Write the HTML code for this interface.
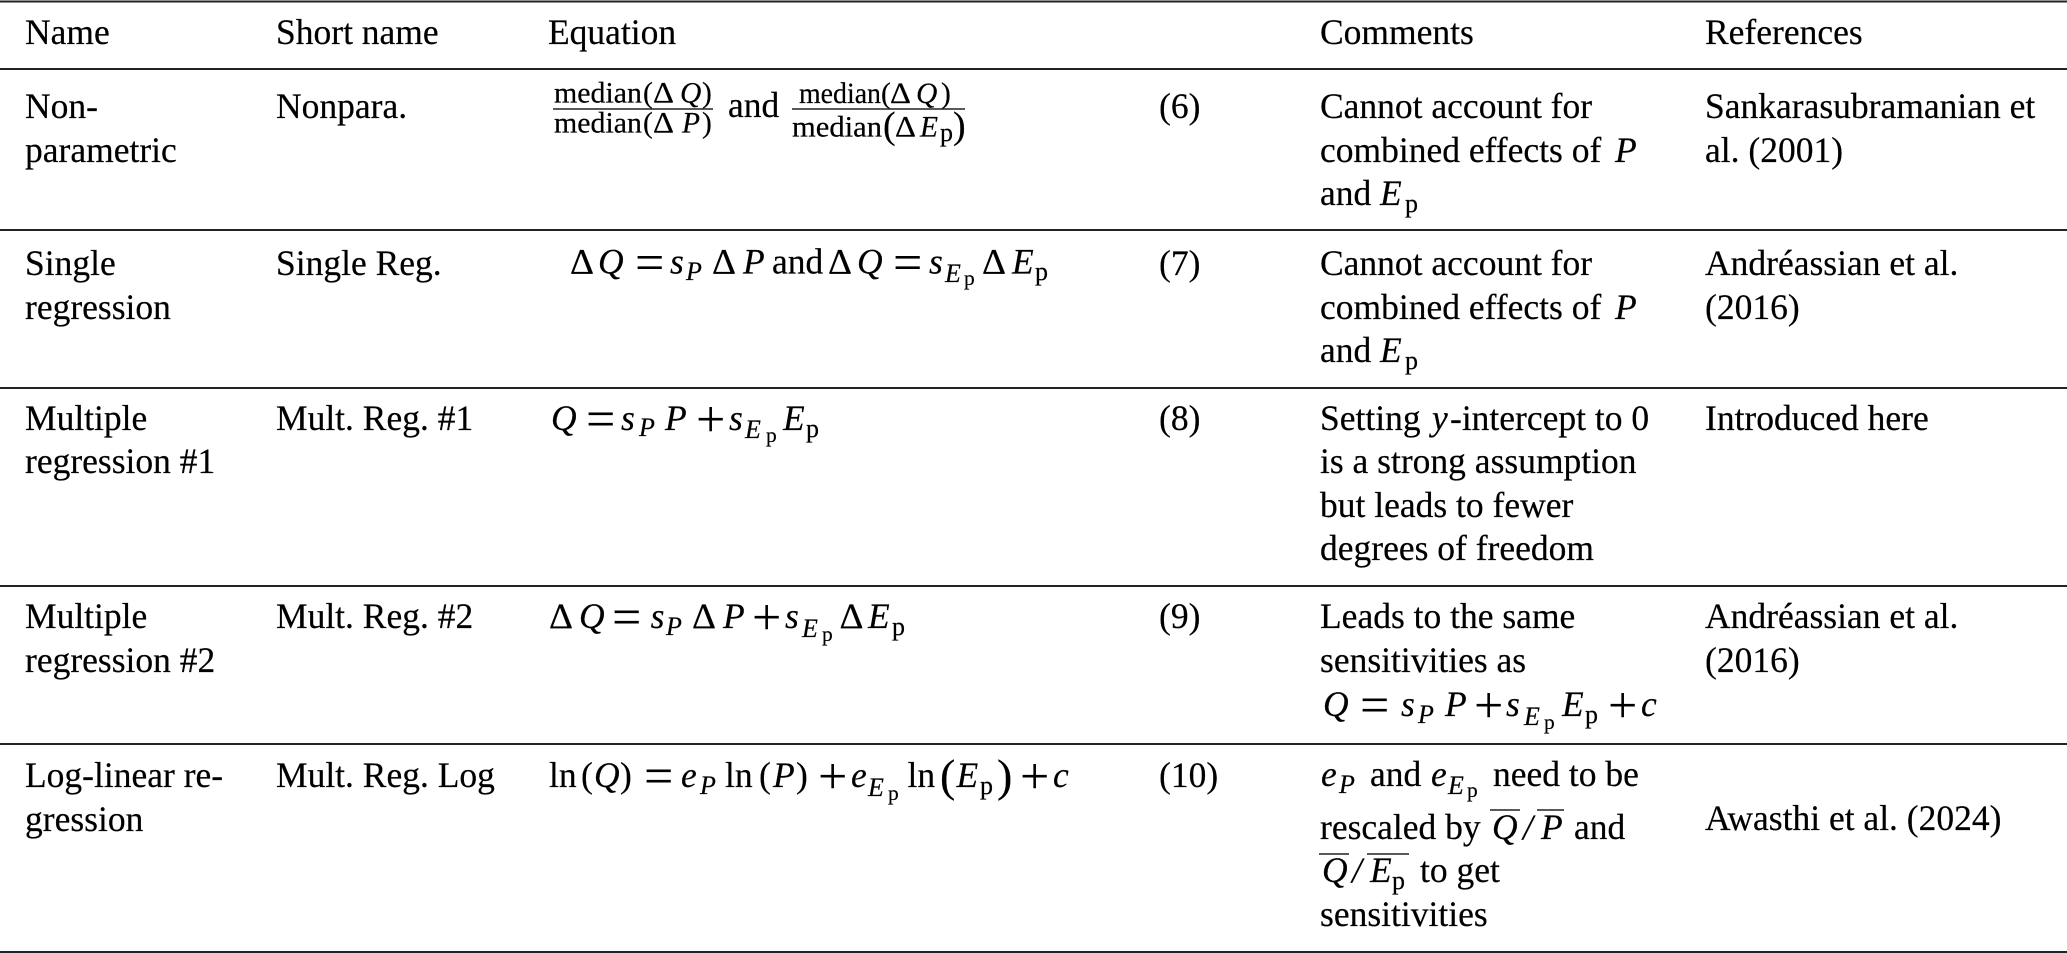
<!DOCTYPE html>
<html><head><meta charset="utf-8"><style>
html,body{margin:0;padding:0;background:#fff}
svg{display:block}
text{font-family:"Liberation Serif",serif;font-size:35.5px;fill:#000;stroke:#000;stroke-width:.2px;white-space:pre}
.i{font-style:italic}
.s{font-style:italic;font-size:26px}
.sr{font-size:26px}
.ss{font-size:21.5px}
.f{font-size:29.5px}
.fi{font-size:29.5px;font-style:italic}
.b{font-size:46px}
.o{font-size:52px;stroke-width:0;transform:translateY(2px)}
line{stroke:#222}
</style></head><body>
<svg width="2067" height="953" viewBox="0 0 2067 953" xmlns="http://www.w3.org/2000/svg">
<g stroke-width="2">
<line x1="0" x2="2067" y1="1.5" y2="1.5"/>
<line x1="0" x2="2067" y1="69" y2="69"/>
<line x1="0" x2="2067" y1="230" y2="230"/>
<line x1="0" x2="2067" y1="388" y2="388"/>
<line x1="0" x2="2067" y1="586" y2="586"/>
<line x1="0" x2="2067" y1="744" y2="744"/>
<line x1="0" x2="2067" y1="952" y2="952"/>
</g>
<!-- header -->
<text x="25" y="44">Name</text><text x="276" y="44">Short name</text><text x="548" y="44">Equation</text><text x="1320" y="44">Comments</text><text x="1705" y="44">References</text>
<!-- row 1 -->
<text x="25" y="118">Non-</text><text x="25" y="162">parametric</text><text x="276" y="118">Nonpara.</text>
<text class="f" x="554" y="102.7" textLength="88" lengthAdjust="spacingAndGlyphs">median</text><text class="f" x="643" y="102.7">(</text><text class="f" x="653" y="102.7" textLength="21" lengthAdjust="spacingAndGlyphs">Δ</text><text class="fi" x="680" y="102.7">Q</text><text class="f" x="702" y="102.7">)</text>
<line x1="553" x2="713" y1="109" y2="109" stroke-width="1.6"/>
<text class="f" x="554" y="132.7" textLength="88" lengthAdjust="spacingAndGlyphs">median</text><text class="f" x="643" y="132.7">(</text><text class="f" x="653" y="132.7" textLength="21" lengthAdjust="spacingAndGlyphs">Δ</text><text class="fi" x="682" y="132.7">P</text><text class="f" x="702" y="132.7">)</text>
<text x="728" y="117">and</text>
<text class="f" x="799" y="103" textLength="82" lengthAdjust="spacingAndGlyphs">median</text><text class="f" x="881" y="103">(</text><text class="f" x="890" y="103" textLength="21" lengthAdjust="spacingAndGlyphs">Δ</text><text class="fi" x="916" y="103">Q</text><text class="f" x="941" y="103">)</text>
<line x1="792" x2="965" y1="109" y2="109" stroke-width="1.6"/>
<text class="f" x="792" y="136.7" textLength="90" lengthAdjust="spacingAndGlyphs">median</text><text class="f" x="883" y="138" style="font-size:38px">(</text><text class="f" x="895" y="136.7" textLength="21" lengthAdjust="spacingAndGlyphs">Δ</text><text class="fi" x="920" y="136.7">E</text><text class="sr" x="940" y="141">p</text><text class="f" x="953" y="138" style="font-size:38px">)</text>
<text x="1159" y="118">(6)</text>
<text x="1320" y="118">Cannot account for</text><text x="1320" y="162">combined effects of</text><text class="i" x="1615" y="162">P</text><text x="1320" y="205">and</text><text class="i" x="1380" y="205">E</text><text class="sr" x="1405" y="212">p</text>
<text x="1705" y="118">Sankarasubramanian et</text><text x="1705" y="162">al. (2001)</text>
<!-- row 2 -->
<text x="25" y="275">Single</text><text x="25" y="319">regression</text><text x="276" y="275">Single Reg.</text>
<text x="570" y="273.5" textLength="24" lengthAdjust="spacingAndGlyphs">Δ</text><text class="i" x="598" y="273.5">Q</text><text class="o" x="635" y="278">=</text><text class="i" x="670" y="273.5">s</text><text class="s" x="686" y="280">P</text><text x="712" y="273.5" textLength="24" lengthAdjust="spacingAndGlyphs">Δ</text><text class="i" x="743" y="273.5">P</text><text x="772" y="273.5">and</text><text x="828" y="273.5" textLength="24" lengthAdjust="spacingAndGlyphs">Δ</text><text class="i" x="857" y="273.5">Q</text><text class="o" x="893" y="278">=</text><text class="i" x="929" y="273.5">s</text><text class="s" x="945" y="282">E</text><text class="ss" x="964" y="285">p</text><text x="982" y="273.5" textLength="24" lengthAdjust="spacingAndGlyphs">Δ</text><text class="i" x="1012" y="273.5">E</text><text class="sr" x="1035" y="280">p</text>
<text x="1159" y="275">(7)</text>
<text x="1320" y="275">Cannot account for</text><text x="1320" y="319">combined effects of</text><text class="i" x="1615" y="319">P</text><text x="1320" y="362">and</text><text class="i" x="1380" y="362">E</text><text class="sr" x="1405" y="369">p</text>
<text x="1705" y="275">Andréassian et al.</text><text x="1705" y="319">(2016)</text>
<!-- row 3 -->
<text x="25" y="430">Multiple</text><text x="25" y="473">regression #1</text><text x="276" y="430">Mult. Reg. #1</text>
<text class="i" x="551" y="430">Q</text><text class="o" x="586" y="434.5">=</text><text class="i" x="621" y="430">s</text><text class="s" x="639" y="436">P</text><text class="i" x="665" y="430">P</text><text class="o" x="696" y="434.5">+</text><text class="i" x="729" y="430">s</text><text class="s" x="745" y="438">E</text><text class="ss" x="766" y="442">p</text><text class="i" x="783" y="430">E</text><text class="sr" x="806" y="437">p</text>
<text x="1159" y="430">(8)</text>
<text x="1320" y="430">Setting</text><text class="i" x="1432" y="430">y</text><text x="1450" y="430">-intercept to 0</text><text x="1320" y="473">is a strong assumption</text><text x="1320" y="517">but leads to fewer</text><text x="1320" y="560">degrees of freedom</text>
<text x="1705" y="430">Introduced here</text>
<!-- row 4 -->
<text x="25" y="628">Multiple</text><text x="25" y="672">regression #2</text><text x="276" y="628">Mult. Reg. #2</text>
<text x="549" y="628" textLength="24" lengthAdjust="spacingAndGlyphs">Δ</text><text class="i" x="579" y="628">Q</text><text class="o" x="612" y="632.5">=</text><text class="i" x="650.6" y="628">s</text><text class="s" x="666" y="635">P</text><text x="692" y="628" textLength="24" lengthAdjust="spacingAndGlyphs">Δ</text><text class="i" x="723" y="628">P</text><text class="o" x="752" y="632.5">+</text><text class="i" x="785" y="628">s</text><text class="s" x="802" y="637">E</text><text class="ss" x="822" y="641">p</text><text x="839.5" y="628" textLength="24" lengthAdjust="spacingAndGlyphs">Δ</text><text class="i" x="868" y="628">E</text><text class="sr" x="892" y="635">p</text>
<text x="1159" y="628">(9)</text>
<text x="1320" y="628">Leads to the same</text><text x="1320" y="672">sensitivities as</text>
<text class="i" x="1323" y="716">Q</text><text class="o" x="1360" y="720.5">=</text><text class="i" x="1401" y="716">s</text><text class="s" x="1418" y="723">P</text><text class="i" x="1445" y="716">P</text><text class="o" x="1474" y="720.5">+</text><text class="i" x="1506" y="716">s</text><text class="s" x="1524" y="725">E</text><text class="ss" x="1544" y="729">p</text><text class="i" x="1562" y="716">E</text><text class="sr" x="1585" y="723">p</text><text class="o" x="1608" y="720.5">+</text><text class="i" x="1641" y="716">c</text>
<text x="1705" y="628">Andréassian et al.</text><text x="1705" y="672">(2016)</text>
<!-- row 5 -->
<text x="25" y="787">Log-linear re-</text><text x="25" y="831">gression</text><text x="276" y="787">Mult. Reg. Log</text>
<text x="549" y="787">ln</text><text x="581" y="787">(</text><text class="i" x="594" y="787">Q</text><text x="620" y="787">)</text><text class="o" x="644" y="791.5">=</text><text class="i" x="681" y="787">e</text><text class="s" x="700" y="794">P</text><text x="725" y="787">ln</text><text x="759" y="787">(</text><text class="i" x="773" y="787">P</text><text x="796" y="787">)</text><text class="o" x="818" y="791.5">+</text><text class="i" x="851" y="787">e</text><text class="s" x="868" y="796">E</text><text class="ss" x="888" y="800">p</text><text x="907.5" y="787">ln</text><text class="b" x="940" y="791">(</text><text class="i" x="956.5" y="787">E</text><text class="sr" x="980" y="794">p</text><text class="b" x="997" y="791">)</text><text class="o" x="1020" y="791.5">+</text><text class="i" x="1053" y="787">c</text>
<text x="1159" y="787">(10)</text>
<text class="i" x="1321" y="786">e</text><text class="s" x="1339" y="793">P</text><text x="1370" y="786">and</text><text class="i" x="1431" y="786">e</text><text class="s" x="1448" y="794">E</text><text class="ss" x="1467" y="797">p</text><text x="1493" y="786">need to be</text>
<text x="1320" y="839">rescaled by</text><text class="i" x="1492" y="839">Q</text><text class="i" x="1523" y="839">/</text><text class="i" x="1541" y="839">P</text><text x="1574" y="839">and</text>
<line x1="1490" x2="1520" y1="810" y2="810" stroke-width="1.6"/><line x1="1537" x2="1564" y1="810" y2="810" stroke-width="1.6"/>
<text class="i" x="1322" y="882">Q</text><text class="i" x="1352" y="882">/</text><text class="i" x="1370" y="882">E</text><text class="sr" x="1392" y="889">p</text><text x="1420" y="882">to get</text>
<line x1="1319" x2="1349" y1="854" y2="854" stroke-width="1.6"/><line x1="1367" x2="1409" y1="854" y2="854" stroke-width="1.6"/>
<text x="1320" y="926">sensitivities</text>
<text x="1705" y="830">Awasthi et al. (2024)</text>
</svg>
</body></html>
